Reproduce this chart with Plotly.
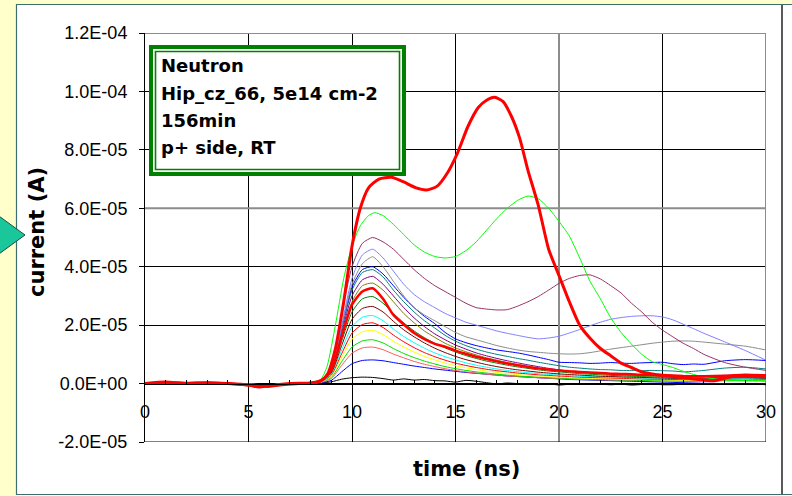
import numpy as np
import plotly.graph_objects as go

# ---- time base (ns) shared by the family of transient currents ----
T = [0, 1, 2, 3, 4, 5, 6, 7, 8, 8.5,
     9, 9.5, 10, 10.5, 11, 11.5, 12, 12.5, 13, 13.5,
     14, 14.5, 15, 15.5, 16, 16.5, 17, 17.5, 18, 18.5,
     19, 19.5, 20, 20.5, 21, 21.5, 22, 22.5, 23, 23.5,
     24, 24.5, 25, 25.5, 26, 26.5, 27, 28, 29, 30]

# ---- currents in microampere ----
I_PLUM = [0, 0.2, 0, 0.3, 0.1, -0.4, -0.6, 0, 0.2, 1,
          6, 24, 40, 48, 50, 48.5, 46, 42.5, 39, 36,
          33.5, 31.5, 29.5, 27.5, 26, 25.5, 25.2, 25.3, 26.5, 28,
          29.8, 32, 34.3, 36, 37, 37.2, 35.8, 33.5, 31, 27.5,
          24.5, 21, 18.3, 16, 13.8, 12, 10, 7.2, 5.6, 4.5]
I_LAVENDER = [0, 0.3, 0, 0.2, 0, -0.3, -0.5, 0, 0.2, 0.8,
              5, 20, 36, 44, 46, 43, 38.5, 34, 30.5, 28,
              26, 24, 22.5, 21, 20, 19, 18, 17.2, 16.5, 15.8,
              15.3, 15.6, 16.2, 17.3, 18.5, 19.8, 21, 22, 22.6, 23,
              23.2, 23.2, 22.8, 21.8, 20.3, 18.8, 17.2, 14.3, 11.3, 8]
I_GRAY = [0, 0.2, 0.1, 0.3, 0, -0.4, -0.5, 0.1, 0.2, 0.8,
          5, 19, 34, 41, 43.4, 40, 35, 30, 26, 23.5,
          21.5, 19.5, 17.5, 16, 15, 14, 13, 12.2, 11.5, 11,
          10.7, 10.4, 10.2, 10.1, 10.2, 10.6, 11.2, 11.8, 12.3, 12.8,
          13.3, 13.8, 14.2, 14.5, 14.6, 14.5, 14.2, 13.5, 12.8, 11.5]
I_BLUE = [0, 0.4, 0, 0.2, 0.1, -0.3, -0.4, 0, 0.3, 1,
          5.5, 19, 33, 39, 40, 37.5, 33.5, 29.5, 26, 23,
          20.5, 17.5, 15.3, 14, 13, 12.2, 11.5, 11, 10.5, 9.8,
          9, 8.2, 7.3, 7.2, 7.1, 6.9, 7, 7.2, 7, 6.9,
          7.1, 7.2, 7.3, 6.8, 6.5, 6.7, 6.6, 7.8, 8.2, 7.9]
I_TEAL = [0, 0.2, 0.1, 0.3, 0, -0.4, -0.5, 0, 0.2, 0.9,
          5.2, 18.5, 32, 38, 39, 36.5, 32, 28, 24.5, 21.5,
          19, 16.5, 14.5, 13, 11.8, 10.8, 10, 9.3, 8.6, 8,
          7.3, 6.7, 6.1, 5.6, 5.3, 5, 4.8, 4.7, 4.5, 4.5,
          4.4, 4.5, 4.4, 4.3, 4, 4.2, 4.5, 5.3, 5.6, 5]
I_PURPLE = [0, 0.3, 0, 0.2, 0.1, -0.3, -0.6, 0, 0.2, 0.9,
            5, 17.5, 30, 35.5, 36.7, 34, 30, 26, 22.5, 19.5,
            17, 15, 13.2, 11.8, 10.5, 9.5, 8.6, 7.8, 7.1, 6.4,
            5.8, 5.2, 4.7, 4.3, 4, 3.8, 3.6, 3.4, 3.2, 3,
            2.9, 2.8, 2.7, 2.6, 2.6, 2.5, 2.6, 2.8, 3, 3]
I_OLIVE = [0, 0.2, 0.1, 0.3, 0, -0.3, -0.5, 0.1, 0.2, 0.8,
           4.7, 16.5, 28, 33.5, 34.4, 32, 28, 24, 20.8, 18,
           15.8, 13.8, 12.2, 10.9, 9.8, 8.8, 8, 7.2, 6.5, 5.9,
           5.3, 4.8, 4.4, 4, 3.7, 3.5, 3.3, 3.1, 2.9, 2.7,
           2.6, 2.5, 2.4, 2.3, 2.3, 2.2, 2.3, 2.5, 2.7, 2.5]
I_RED_BOLD = [0, 0.4, 0.2, 0.3, 0, -0.6, -1, -0.2, 0.2, 0.9,
              4.5, 16, 27, 31.5, 32.6, 29, 23.5, 20.2, 17.3, 15.2,
              13.6, 12.6, 11.3, 10.2, 9.2, 8.4, 7.6, 6.9, 6.3, 5.7,
              5.2, 4.8, 4.5, 4.2, 4, 3.8, 3.6, 3.4, 3.3, 3.2,
              3, 3, 2.9, 2.8, 2.6, 2.5, 2.5, 2.7, 3, 2.8]
I_DKGREEN = [0, 0.2, 0, 0.3, 0.1, -0.3, -0.5, 0, 0.2, 0.8,
             4, 14.5, 24.5, 29, 29.8, 27.5, 24, 20.8, 18, 15.7,
             13.8, 12.2, 10.8, 9.6, 8.6, 7.7, 7, 6.3, 5.7, 5.2,
             4.7, 4.3, 4, 3.7, 3.4, 3.2, 3, 2.8, 2.7, 2.5,
             2.4, 2.3, 2.2, 2.1, 2, 2, 2, 2.1, 2.2, 2]
I_MAROON = [0, 0.3, 0.1, 0.2, 0, -0.3, -0.5, 0, 0.2, 0.7,
            3.6, 13, 22, 25.7, 26.4, 24.5, 21.3, 18.4, 16, 13.9,
            12.1, 10.6, 9.3, 8.2, 7.3, 6.5, 5.8, 5.2, 4.7, 4.3,
            3.9, 3.6, 3.3, 3.1, 2.9, 2.7, 2.5, 2.4, 2.3, 2.2,
            2.1, 2, 1.9, 1.8, 1.8, 1.7, 1.8, 1.9, 2, 1.8]
I_CYAN = [0, 0.2, 0, 0.3, 0.1, -0.2, -0.4, 0, 0.2, 0.6,
          3.2, 11.5, 19.5, 22.7, 23.3, 21.5, 18.7, 16.1, 14, 12.1,
          10.5, 9.2, 8.1, 7.1, 6.3, 5.6, 5, 4.5, 4.1, 3.7,
          3.4, 3.1, 2.9, 2.7, 2.5, 2.4, 2.3, 2.2, 2.1, 2,
          1.9, 1.8, 1.8, 1.7, 1.6, 1.6, 1.6, 1.7, 1.8, 1.6]
I_RED = [0, 0.3, 0.1, 0.2, 0, -0.3, -0.5, 0, 0.2, 0.6,
         2.9, 10.2, 17.3, 20.2, 20.8, 19.2, 16.6, 14.3, 12.3, 10.6,
         9.2, 8, 7, 6.2, 5.5, 4.9, 4.4, 4, 3.6, 3.3,
         3, 2.8, 2.6, 2.4, 2.2, 2.1, 2, 1.9, 1.8, 1.7,
         1.6, 1.5, 1.5, 1.4, 1.4, 1.3, 1.4, 1.5, 1.6, 1.4]
I_YELLOW = [0, 0.2, 0, 0.3, 0.1, -0.2, -0.4, 0, 0.2, 0.5,
            2.5, 9, 15.2, 17.7, 18.2, 16.8, 14.5, 12.5, 10.8, 9.3,
            8.1, 7, 6.1, 5.4, 4.8, 4.3, 3.8, 3.4, 3.1, 2.8,
            2.6, 2.4, 2.2, 2, 1.9, 1.8, 1.7, 1.6, 1.5, 1.4,
            1.4, 1.3, 1.3, 1.2, 1.2, 1.1, 1.2, 1.3, 1.4, 1.2]
I_GREEN = [0, 0.3, 0.1, 0.2, 0, -0.3, -0.4, 0, 0.2, 0.5,
           2.1, 7.5, 12.5, 14.6, 15, 13.9, 12, 10.3, 8.9, 7.7,
           6.7, 5.8, 5.1, 4.5, 4, 3.6, 3.2, 2.9, 2.6, 2.4,
           2.2, 2, 1.9, 1.7, 1.6, 1.5, 1.4, 1.3, 1.2, 1.2,
           1.1, 1, 1, 0.9, 0.9, 0.8, 0.9, 1, 1.1, 0.9]
I_SALMON = [0, 0.2, 0, 0.3, 0.1, -0.2, -0.4, 0, 0.2, 0.4,
            1.7, 6.2, 10.4, 12.2, 12.5, 11.6, 10.1, 8.8, 7.6, 6.6,
            5.8, 5.1, 4.5, 4, 3.6, 3.2, 2.9, 2.6, 2.4, 2.2,
            2, 1.8, 1.7, 1.6, 1.5, 1.4, 1.3, 1.2, 1.2, 1.1,
            1, 1, 0.9, 0.9, 0.8, 0.8, 0.9, 1, 1, 0.9]
I_BLUE_LOW = [0, 0.2, 0.1, 0.2, 0, -0.3, -0.4, 0, 0.2, 0.3,
              1.1, 4, 6.8, 7.9, 8.1, 7.8, 7.2, 6.6, 6, 5.5,
              5, 4.6, 4.2, 3.8, 3.5, 3.2, 2.9, 2.6, 2.4, 2.2,
              2, 1.8, 1.6, 1.4, 1.3, 1.2, 1.1, 1, 0.9, 0.8,
              0.7, 0.6, 0.5, 0.4, 0.3, 0.2, 0.1, 0, -0.2, 0]
I_BLACK = [0, 0.2, 0, 0.2, 0.1, -0.2, -0.3, 0, 0.1, 0.2,
           0.6, 1.5, 2, 2.2, 2.1, 1.7, 1.2, 1.6, 1.2, 1.4,
           1, 0.9, 0.5, 1.1, 0.8, 0.3, -0.1, 0.2, 0, 0,
           -0.3, 0, -0.5, -0.2, 0, -0.2, -0.2, -0.4, -0.2, -0.5,
           -0.3, -0.1, -0.4, -0.4, -0.2, -0.3, -0.3, -0.1, 0, -0.4]

# highest bright-green curve (own time base)
T_GREEN_HI = [0, 1, 2, 3, 4, 5, 6, 7, 8, 8.5,
              8.8, 9.2, 9.6, 10, 10.4, 10.8, 11.1, 11.5, 12, 12.5,
              13, 13.5, 14, 14.5, 15, 15.5, 16, 16.5, 17, 17.5,
              18, 18.5, 19, 19.5, 20, 20.5, 21, 21.5, 22, 22.5,
              23, 23.5, 24, 24.5, 25, 25.5, 26, 27, 28, 29, 30]
I_GREEN_HI = [0, 0.3, -0.2, 0.4, 0, -0.3, -0.8, 0, 0.3, 1.5,
              6, 20, 36, 47, 54, 57.5, 58.5, 57.5, 54.5, 51,
              47.5, 45, 43.5, 43, 43.5, 45.5, 48.5, 52.5, 56.5, 60,
              62.7, 64.2, 63.3, 60, 55.5, 50.5, 43, 35, 29, 22.5,
              17.5, 13.5, 10, 7.5, 6.5, 5.5, 4.2, 2.2, 1.2, 1, 1]

# main double-peaked curve (own time base)
T_MAIN = [0, 1, 2, 3, 4, 5, 5.5, 6, 7, 8,
          8.5, 8.8, 9.2, 9.6, 10, 10.4, 10.8, 11.3, 11.9, 12.5,
          13.1, 13.6, 14.1, 14.6, 15.1, 15.6, 16.1, 16.5, 16.9, 17.3,
          17.7, 18.1, 18.5, 19, 19.5, 20, 20.5, 21, 21.5, 22,
          22.5, 23, 23.5, 24, 24.5, 25, 26, 27, 27.5, 28,
          28.5, 29, 30]
I_MAIN = [0, 0.5, 0, 0.3, 0, -0.5, -1.2, -0.8, 0, 0.2,
          1, 3, 12, 28, 47, 60, 67, 70, 70.6, 69,
          67, 66.3, 67.5, 72, 79, 88, 94.5, 97, 98, 96.5,
          91.5, 84, 73, 61, 46, 37, 28, 20, 15.5, 12,
          9.5, 7, 5.5, 4, 3.3, 2.8, 2, 1.2, 1, 1.8,
          2.7, 2.5, 2.5]

# axis ticks
X_TICKS = [0, 5, 10, 15, 20, 25, 30]
Y_TICKS = [-2e-5, 0, 2e-5, 4e-5, 6e-5, 8e-5, 1e-4, 1.2e-4]
Y_TICK_TEXT = ["-2.0E-05", "0.0E+00", "2.0E-05", "4.0E-05",
               "6.0E-05", "8.0E-05", "1.0E-04", "1.2E-04"]

BOX_LINES = ["Neutron", "Hip_cz_66, 5e14 cm-2", "156min", "p+ side, RT"]

UA = 1e-6  # microampere -> ampere

family = [
    (T, I_BLACK, "#000000", 1),
    (T, I_BLUE_LOW, "#0000FF", 1),
    (T, I_SALMON, "#FF5A5A", 1),
    (T, I_GREEN, "#00DD00", 1),
    (T, I_YELLOW, "#FFFF00", 1),
    (T, I_RED, "#FF0000", 1),
    (T, I_CYAN, "#00FFFF", 1),
    (T, I_MAROON, "#800000", 1),
    (T, I_DKGREEN, "#008000", 1),
    (T, I_OLIVE, "#808000", 1),
    (T, I_PURPLE, "#800080", 1),
    (T, I_TEAL, "#008080", 1),
    (T, I_BLUE, "#0000FF", 1),
    (T, I_GRAY, "#8C8C8C", 1),
    (T, I_LAVENDER, "#8080FF", 1),
    (T, I_PLUM, "#993366", 1),
    (T_GREEN_HI, I_GREEN_HI, "#00FF00", 1),
    (T, I_RED_BOLD, "#FF0000", 2.5),
    (T_MAIN, I_MAIN, "#FF0000", 3),
]

fig = go.Figure()
for tt, ii, col, w in family:
    fig.add_trace(go.Scatter(
        x=tt, y=np.array(ii) * UA, mode="lines",
        line=dict(color=col, width=w, shape="spline", smoothing=0.6),
        showlegend=False, hoverinfo="skip"))

# page geometry (pixels) -> paper coordinates
W, H = 792, 496
L, R, TOP, BOT = 145, 766, 33, 442


def px(x):
    return (x - L) / (R - L)


def py(y):
    return (BOT - y) / (BOT - TOP)


Y0, Y1 = -2e-5, 1.2e-4
shapes = []
# white chart panel on the yellow page
shapes.append(dict(type="rect", xref="paper", yref="paper",
                   x0=px(16.5), x1=px(800), y0=py(4.5), y1=py(494.5),
                   fillcolor="white", line=dict(color="#3E6E6E", width=1.2),
                   layer="below"))
shapes.append(dict(type="line", xref="paper", yref="paper",
                   x0=px(782), x1=px(782), y0=py(5), y1=py(494),
                   line=dict(color="#222222", width=1.5), layer="below"))
# pointer triangle on the left edge
tri = "M {a},{b} L {c},{d} L {e},{f} Z".format(
    a=px(-8), b=py(211), c=px(25), d=py(235), e=px(-8), f=py(259))
shapes.append(dict(type="path", xref="paper", yref="paper", path=tri,
                   fillcolor="#19C79B", line=dict(color="#1D4D45", width=1),
                   layer="above"))
# gray frame / grid lines
gray = dict(color="#8C8C8C", width=2)
for y in (6e-5, Y1):
    shapes.append(dict(type="line", xref="x", yref="y", x0=0, x1=30,
                       y0=y, y1=y, line=gray, layer="between"))
for x in (20, 30):
    shapes.append(dict(type="line", xref="x", yref="y", x0=x, x1=x,
                       y0=Y0, y1=Y1, line=gray, layer="between"))
shapes.append(dict(type="line", xref="x", yref="y", x0=0, x1=30,
                   y0=Y0, y1=Y0, line=dict(color="black", width=1.2),
                   layer="between"))
# annotation box with double green border
shapes.append(dict(type="rect", xref="paper", yref="paper",
                   x0=px(151), x1=px(404), y0=py(47), y1=py(174),
                   fillcolor="white", line=dict(color="#008000", width=4),
                   layer="above"))
shapes.append(dict(type="rect", xref="paper", yref="paper",
                   x0=px(155.5), x1=px(399.5), y0=py(51.5), y1=py(169.5),
                   line=dict(color="#008000", width=1.6), layer="above"))

annotations = []
for txt, yc in zip(BOX_LINES, [65.3, 93.3, 120.7, 147.3]):
    annotations.append(dict(
        text="<b>%s</b>" % txt, xref="paper", yref="paper",
        x=px(159), y=py(yc), xanchor="left", yanchor="middle",
        showarrow=False, font=dict(family="DejaVu Sans", size=18,
                                   color="black")))
annotations.append(dict(
    text="<b>current (A)</b>", xref="paper", yref="paper",
    x=px(37), y=py(232), textangle=-90, xanchor="center", yanchor="middle",
    showarrow=False, font=dict(family="DejaVu Sans", size=21, color="black")))
annotations.append(dict(
    text="<b>time (ns)</b>", xref="paper", yref="paper",
    x=px(466), y=py(469), xanchor="center", yanchor="middle",
    showarrow=False, font=dict(family="DejaVu Sans", size=21, color="black")))

tick_font = dict(family="Liberation Sans, Arial", size=18, color="black")

fig.update_layout(
    width=W, height=H,
    margin=dict(l=L, r=W - R, t=TOP, b=H - BOT, pad=0),
    paper_bgcolor="#FFFFCC", plot_bgcolor="white",
    showlegend=False,
    shapes=shapes, annotations=annotations,
    xaxis=dict(range=[0, 30], tickmode="array", tickvals=X_TICKS,
               ticktext=[str(v) for v in X_TICKS],
               showgrid=True, gridcolor="black", gridwidth=1,
               zeroline=False, showline=True, linecolor="black",
               linewidth=1, anchor="free",
               position=(0 - Y0) / (Y1 - Y0),
               ticks="inside", ticklen=5, tickcolor="black",
               minor=dict(dtick=1, tick0=0, ticks="inside", ticklen=4,
                          tickcolor="black", showgrid=False),
               tickfont=tick_font, ticklabelstandoff=12, fixedrange=True),
    yaxis=dict(range=[Y0, Y1], tickmode="array", tickvals=Y_TICKS,
               ticktext=Y_TICK_TEXT,
               showgrid=True, gridcolor="black", gridwidth=1,
               zeroline=False, showline=True, linecolor="black",
               linewidth=1, ticks="outside", ticklen=5, tickcolor="black",
               tickfont=tick_font, ticklabelstandoff=8, fixedrange=True),
)

fig.write_html("out.html")
